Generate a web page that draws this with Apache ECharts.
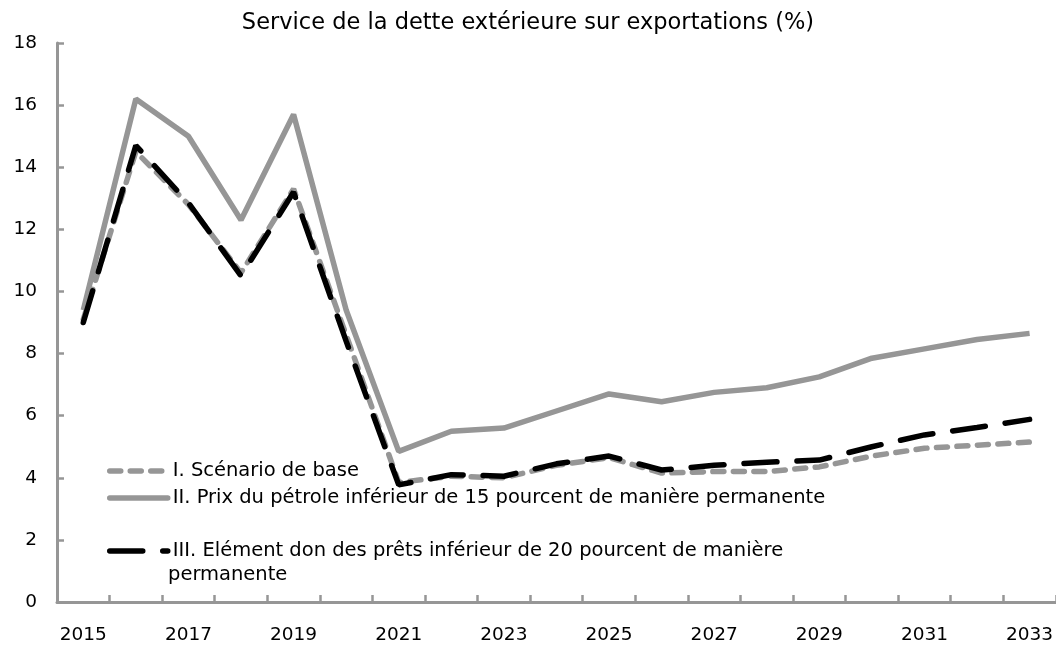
<!DOCTYPE html>
<html>
<head>
<meta charset="utf-8">
<script src="https://cdn.jsdelivr.net/npm/echarts@6/dist/echarts.min.js"></script>
<style>
  html, body { margin: 0; padding: 0; background: #fff; }
  #chart { width: 1056px; height: 646px; }
</style>
</head>
<body>
<div id="chart"></div>
<script>
const years = ['2015', '2016', '2017', '2018', '2019', '2020', '2021', '2022', '2023', '2024',
  '2025', '2026', '2027', '2028', '2029', '2030', '2031', '2032', '2033']
// I. Scénario de base
const baseline = [9.1, 14.5, 12.8, 10.6, 13.3, 8.6, 3.85, 4.05, 4.0, 4.4,
  4.65, 4.15, 4.2, 4.2, 4.35, 4.7, 4.95, 5.05, 5.15]
// II. Prix du pétrole
const oilPrice = [9.4, 16.2, 15.0, 12.3, 15.7, 9.4, 4.85, 5.5, 5.6, 6.15,
  6.7, 6.45, 6.75, 6.9, 7.25, 7.85, 8.15, 8.45, 8.65]
// III. Elément don
const grantElement = [9.0, 14.7, 12.85, 10.5, 13.2, 8.4, 3.77, 4.1, 4.05, 4.45,
  4.7, 4.25, 4.4, 4.5, 4.57, 5.0, 5.38, 5.62, 5.88]

const seriesNames = [
  'I. Scénario de base',
  'II. Prix du pétrole inférieur de 15 pourcent de manière permanente',
  'III. Elément don des prêts inférieur de 20 pourcent de manière',
]

const font = '"DejaVu Sans", sans-serif'
const grey = '#969696'

// one legend per line, Excel spaces them unevenly
function legendAt(name, top) {
  return {
    orient: 'vertical',
    left: 102,
    top: top,
    itemWidth: 58,
    itemHeight: 14,
    itemGap: 0,
    itemStyle: { opacity: 0 },
    lineStyle: { width: 5.5, cap: 'round' },
    textStyle: { fontFamily: font, fontSize: 19.5, color: '#000' },
    data: [name],
  }
}

const myChart = echarts.init(document.getElementById('chart'))
const option = {
  animation: false,
  textStyle: { fontFamily: font },
  title: {
    text: 'Service de la dette extérieure sur exportations (%)',
    left: 'center',
    top: 7,
    textStyle: { fontFamily: font, fontSize: 22.5, fontWeight: 'normal', color: '#000' },
  },
  legend: [
    legendAt(seriesNames[0], 456),
    legendAt(seriesNames[1], 483),
    legendAt(seriesNames[2], 536),
  ],
  graphic: [
    {
      type: 'text',
      left: 168,
      top: 565,
      style: { text: 'permanente', font: '19.5px "DejaVu Sans", sans-serif', fill: '#000' },
    },
  ],
  grid: {
    left: 57,
    right: -5,
    top: 43,
    bottom: 44,
  },
  xAxis: {
    type: 'category',
    data: years,
    boundaryGap: true,
    axisLine: { lineStyle: { color: grey, width: 3 } },
    axisTick: { show: true, interval: 0, inside: true, length: 7, lineStyle: { color: grey, width: 2.5 } },
    axisLabel: { interval: 1, fontSize: 18.5, color: '#000', margin: 24, fontFamily: font },
    splitLine: { show: false },
  },
  yAxis: {
    type: 'value',
    min: 0,
    max: 18,
    interval: 2,
    axisLine: { show: true, lineStyle: { color: grey, width: 3 } },
    axisTick: { show: true, inside: true, length: 7, lineStyle: { color: grey, width: 2.5 } },
    axisLabel: { fontSize: 18.5, color: '#000', margin: 20, fontFamily: font },
    splitLine: { show: false },
  },
  series: [
    {
      name: seriesNames[1],
      type: 'line',
      data: oilPrice,
      symbol: 'none',
      z: 2,
      itemStyle: { color: grey },
      lineStyle: { color: grey, width: 5.5 },
    },
    {
      name: seriesNames[0],
      type: 'line',
      data: baseline,
      symbol: 'none',
      z: 3,
      itemStyle: { color: grey },
      lineStyle: { color: grey, width: 5.5, type: [11, 9.5], cap: 'round' },
    },
    {
      name: seriesNames[2],
      type: 'line',
      data: grantElement,
      symbol: 'none',
      z: 4,
      itemStyle: { color: '#000' },
      lineStyle: { color: '#000', width: 5.5, type: [33, 20], cap: 'round' },
    },
  ],
}
myChart.setOption(option)
</script>
</body>
</html>
